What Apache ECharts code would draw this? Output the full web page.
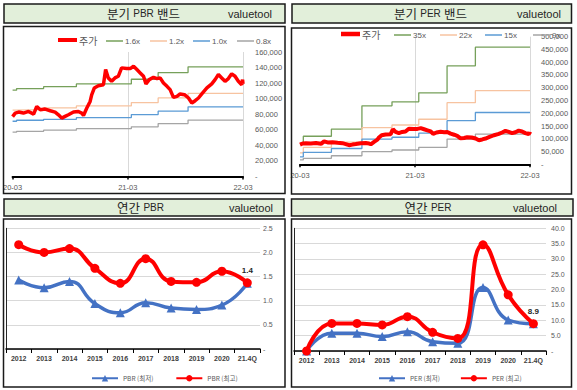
<!DOCTYPE html>
<html><head><meta charset="utf-8">
<script src="https://cdn.jsdelivr.net/npm/echarts@6/dist/echarts.min.js"></script>
<style>html,body{margin:0;padding:0;background:#fff}#c{width:577px;height:390px}</style>
</head><body><div id="c"></div>
<script>
// ---- data ----
const xTickLabels = ['20-03','21-03','22-03'];
const priceWeeks = [0,1.2,2.7,4.9,7.2,9.5,10.9,12.5,14.7,17,19.2,20.7,22.2,23.7,25.2,27.5,29.7,31.2,32,33.5,35,35.7,36.9,38.7,41,42,43.2,44.7,46.2,47.7,49.2,51.5,53.1,54.6,56.1,57.6,59.1,60.2,61.7,63.6,65.2,66.6,68.1,69.7,71.1,72.6,74.2,75.6,77.6,79.4,80.9,82.4,83.9,85.4,87.7,89.9,91.4,92.9,94.4,95.9,97.4,98.9,100.4,101.9,103.4,103.8,104];
const priceValues = [77000,81500,82800,81500,83600,80200,90000,85800,86700,84500,82800,79300,75000,77200,79300,82800,83600,81500,78400,88000,96500,105000,113800,116700,118000,137400,126700,122300,126700,128800,139600,138700,138700,141600,137400,133100,128800,119000,124500,127500,125800,126700,120200,115900,111600,101700,103000,106100,105100,100900,94400,97400,100900,106100,113800,119000,124500,131000,126700,122300,125800,131900,128800,122300,118000,124500,119000];

const pbrStepWeeks = [0,1.8,14,28.8,53.6,65.7,79.2];
const pbr16 = [111000,113000,115500,119000,125000,133500,141000];
const pbr12 = [85200,86000,88100,90700,95000,101000,106700];
const pbr10 = [71000,72300,73500,75700,79600,84000,89600];
const pbr08 = [57000,58000,59500,61500,63800,68000,72500];

const perStepWeeks = [0,1.5,14.2,28,41.6,53.7,66.5,79.3];
const per35 = [82000,110000,138000,229000,245000,280000,386000,459000];
const per22 = [45000,66000,87000,143500,154000,176500,241500,288500];
const per15 = [29000,47000,62000,99000,106000,122000,171000,203000];
const per9  = [17000,23500,33500,49500,56000,66500,99000,118000];

const years = ['2012','2013','2014','2015','2016','2017','2018','2019','2020','21.4Q'];
const pbrMin = [1.43,1.27,1.40,0.94,0.75,0.96,0.85,0.82,0.91,1.36];
const pbrMax = [2.16,2.00,2.08,1.67,1.36,1.87,1.40,1.38,1.61,1.37];
const perMin = [0,5.8,5.8,4.7,6.3,3.0,2.5,20.7,10.1,8.9];
const perMax = [0,9.0,9.0,8.5,11.2,6.1,4.1,34.6,18.3,8.9];

// ---- build ----
const NUM = 'Liberation Sans', KR = 'Noto Sans CJK KR';
const chart = echarts.init(document.getElementById('c'), null, {renderer:'svg', width:577, height:390});
function comma(v){ return v === 0 ? '-' : String(v).replace(/\B(?=(\d{3})+(?!\d))/g, ','); }
function stepData(weeks, vals){ const d = weeks.map((w,i)=>[w, vals[i]]); d.push([104, vals[vals.length-1]]); return d; }
const priceData = priceWeeks.map((w,i)=>[w, priceValues[i]]);

function topX(gi){ return {type:'value', gridIndex:gi, min:0, max:104, interval:52,
  axisLine:{lineStyle:{color:'#000', width:2}},
  axisTick:{show:true, length:3, lineStyle:{color:'#000', width:1.5}},
  splitLine:{show:true, showMinLine:false, lineStyle:{color:'#D9D9D9', width:1}},
  axisLabel:{margin:7, fontSize:7.5, fontFamily:NUM, color:'#595959', showMinLabel:true, showMaxLabel:true,
    formatter:v=>xTickLabels[Math.round(v/52)]}}; }
function topY(gi, max, interval, margin){ return {type:'value', gridIndex:gi, position:'right', min:0, max, interval,
  axisLine:{show:false}, axisTick:{show:false}, splitLine:{show:false},
  axisLabel:{margin, fontSize:7.5, fontFamily:NUM, color:'#595959', formatter:comma}}; }
function botX(gi){ return {type:'category', gridIndex:gi, data:years, boundaryGap:true,
  axisLine:{lineStyle:{color:'#000', width:1.5}},
  axisTick:{show:true, alignWithLabel:false, length:4, lineStyle:{color:'#000'}},
  axisLabel:{interval:0, margin:6, fontSize:7, fontWeight:'bold', fontFamily:NUM, color:'#404040'}}; }
function botY(gi, max, interval, margin){ return {type:'value', gridIndex:gi, position:'right', min:0, max, interval,
  axisLine:{show:false}, axisTick:{show:false}, splitLine:{lineStyle:{color:'#D9D9D9'}},
  axisLabel:{margin, fontSize:7, fontFamily:NUM, color:'#595959', formatter:v=>v===0?'-':v.toFixed(1)}}; }
function botYL(gi, max){ return {type:'value', gridIndex:gi, position:'left', min:0, max,
  axisLine:{show:true, lineStyle:{color:'#262626', width:1}}, axisTick:{show:false}, axisLabel:{show:false}, splitLine:{show:false}}; }

function band(name, xi, yi, data, color){ return {name, type:'line', xAxisIndex:xi, yAxisIndex:yi, data, step:'end',
  symbol:'none', showSymbol:false, lineStyle:{color, width:1.3}, itemStyle:{color}, z:2, animation:false}; }
function price(xi, yi, w){ return {name:'주가', type:'line', xAxisIndex:xi, yAxisIndex:yi, data:priceData,
  symbol:'none', showSymbol:false, lineStyle:{color:'#FF0000', width:w}, itemStyle:{color:'#FF0000'}, z:5, animation:false}; }
function annual(name, xi, yi, vals, color, symbol, size, width, labelLast){
  return {name, type:'line', xAxisIndex:xi, yAxisIndex:yi, smooth:true, symbol, symbolSize:size,
    lineStyle:{color, width}, itemStyle:{color}, animation:false, z: labelLast?4:3,
    data: vals.map((v,i)=> (labelLast && i===vals.length-1) ? {value:v, label:{show:true, position:'top', distance:4,
      formatter:p=>Number(p.value).toFixed(1), fontSize:8, fontWeight:'bold', color:'#262626', fontFamily:NUM}} : v)};
}

// one legend per item for precise placement (top charts)
function leg(name, left, top, w, h, kr){
  return {data:[name], left, top, icon:'rect', itemWidth:w, itemHeight:h, selectedMode:false, padding:0,
    textStyle: kr ? {fontSize:10, fontFamily:KR, color:'#595959', padding:[0,0,0,-3]} : {fontSize:8, fontFamily:NUM, color:'#595959', padding:[0,0,0,-3]}};
}
const smallLeg = {fontSize:6.5, fontFamily:KR, color:'#595959'};

function titleText(x, y, kr1, en, kr2){
  const t = kr2 ? '{a|'+kr1+'} {b|'+en+'} {a|'+kr2+'}' : '{a|'+kr1+'} {b|'+en+'}';
  return {type:'text', x, y, z:101, style:{text:t, align:'center', verticalAlign:'middle',
    rich:{a:{fontSize:12.5, fontFamily:KR, fill:'#262626', color:'#262626'}, b:{fontSize:10, fontFamily:NUM, fill:'#262626', color:'#262626'}}}};
}
function vt(x, y){ return {type:'text', x, y, z:101, style:{text:'valuetool', fontSize:11, fontFamily:NUM, fill:'#262626', align:'right', verticalAlign:'middle'}}; }
function rect(x,y,w,h,fill){ return {type:'rect', z:100, shape:{x,y,width:w,height:h}, style:{fill, stroke:'#1a1a1a', lineWidth:1.5}}; }

chart.setOption({
  animation:false,
  grid:[
    {left:12, top:52, width:231, height:124.5},
    {left:300, top:36.7, width:230, height:127.6},
    {left:6, top:228.3, width:254, height:120.7},
    {left:294, top:228.3, width:252, height:122.7}
  ],
  xAxis:[topX(0), topX(1), botX(2), botX(3)],
  yAxis:[topY(0,160000,20000,12), topY(1,500000,50000,11), botY(2,2.5,0.5,3), botYL(2,2.5), botY(3,40,5,5), botYL(3,40)],
  legend:[
    leg('주가',58,35,19,4,true),
    leg('1.6x',106,37,17,1.5,false),
    leg('1.2x',150,37,17,1.5,false),
    leg('1.0x',193,37,17,1.5,false),
    leg('0.8x',237,37,17,1.5,false),
    leg('주가',341,29,19,4.5,true),
    leg('35x',394,31,17,1.5,false),
    leg('22x',440,31,17,1.5,false),
    leg('15x',485,31,17,1.5,false),
    leg('9x',533,31,17,1.5,false),
    {data:['PBR (최저)','PBR (최고)'], left:86, top:370, itemWidth:26, itemHeight:8, itemGap:22, textStyle:smallLeg, selectedMode:false},
    {data:['PER (최저)','PER (최고)'], left:373, top:370, itemWidth:26, itemHeight:8, itemGap:20, textStyle:smallLeg, selectedMode:false}
  ],
  series:[
    price(0,0,3.5),
    band('1.6x',0,0,stepData(pbrStepWeeks,pbr16),'#76A05A'),
    band('1.2x',0,0,stepData(pbrStepWeeks,pbr12),'#F7C3A0'),
    band('1.0x',0,0,stepData(pbrStepWeeks,pbr10),'#5B9BD5'),
    band('0.8x',0,0,stepData(pbrStepWeeks,pbr08),'#A5A5A5'),
    price(1,1,4),
    band('35x',1,1,stepData(perStepWeeks,per35),'#76A05A'),
    band('22x',1,1,stepData(perStepWeeks,per22),'#F7C3A0'),
    band('15x',1,1,stepData(perStepWeeks,per15),'#5B9BD5'),
    band('9x',1,1,stepData(perStepWeeks,per9),'#A5A5A5'),
    annual('PBR (최저)',2,2,pbrMin,'#4472C4','triangle',9,3.5,false),
    annual('PBR (최고)',2,2,pbrMax,'#FF0000','circle',9,4,true),
    annual('PER (최저)',3,4,perMin,'#4472C4','triangle',9,3.5,false),
    annual('PER (최고)',3,4,perMax,'#FF0000','circle',9,4,true)
  ],
  graphic:[
    rect(3.5,26.5,281.5,167,'none'),
    rect(291.5,28,280,166,'none'),
    rect(3.5,219,281.5,168,'none'),
    rect(291.5,219,280,168,'none'),
    rect(4,4,281,19,'#E2EFDA'),
    rect(292,4,279.5,19,'#E2EFDA'),
    rect(4,199,280,17,'#E2EFDA'),
    rect(291.5,199,281.5,17,'#E2EFDA'),
    titleText(143.5,13.5,'분기','PBR','밴드'),
    titleText(430.5,13.5,'분기','PER','밴드'),
    titleText(140.5,207.5,'연간','PBR'),
    titleText(428,207.5,'연간','PER'),
    vt(272,14), vt(561,14), vt(273,208), vt(557,208)
  ]
});
</script></body></html>
